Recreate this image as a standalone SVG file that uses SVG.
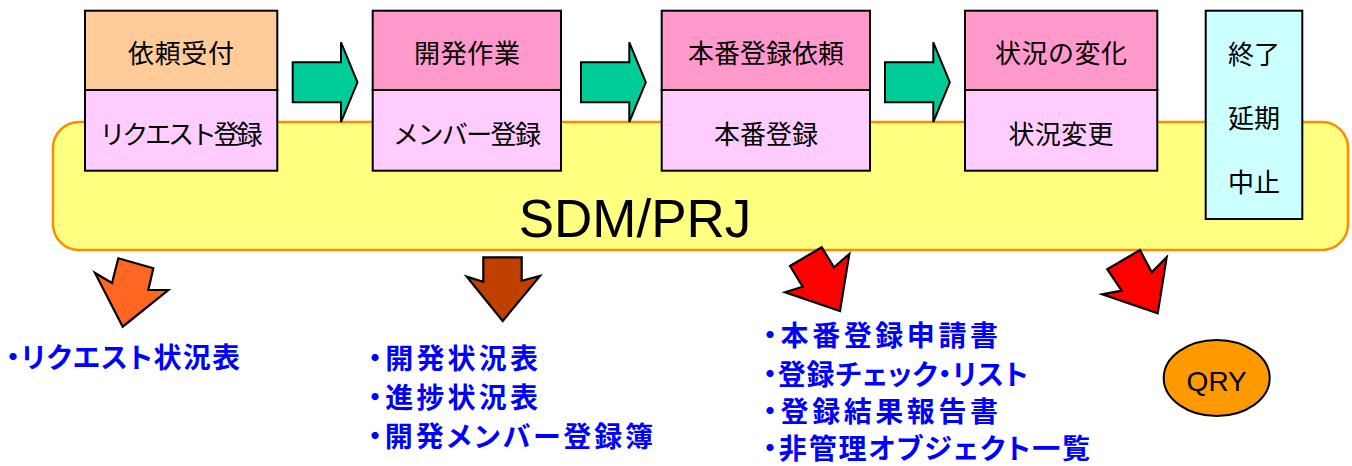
<svg xmlns="http://www.w3.org/2000/svg" width="1352" height="466" viewBox="0 0 1352 466">
<style>
.box{stroke:#000;stroke-width:2}
.top1{fill:#FFCC99}
.top{fill:#FF99CC}
.bot{fill:#FFCCFF}
.end{fill:#CCFFFF}
.t{font-family:"Noto Sans CJK JP","Noto Sans",sans-serif;font-size:26px;fill:#000;text-anchor:middle}
.l{font-family:"Noto Sans CJK JP","Noto Sans",sans-serif;font-size:28px;font-weight:bold;fill:#0000FF;font-feature-settings:"palt"}
.garrow{fill:#00CC99;stroke:#000;stroke-width:2;stroke-linejoin:miter}
.darrow{stroke:#000;stroke-width:2.2;stroke-linejoin:miter}
</style>
<defs>
<polygon id="ga" points="292.7,62.3 341,62.3 341,42.3 357.5,82.3 341,122 341,102.3 292.7,102.3"/>
</defs>
<g id="sdm">
<rect x="53" y="122" width="1295" height="128" rx="26" ry="26" fill="#FFFF80" stroke="#FF8C00" stroke-width="2.5"/>
<text x="635" y="237" font-family="Liberation Sans,Arial,sans-serif" font-size="53" text-anchor="middle" fill="#000">SDM/PRJ</text>
</g>
<g id="connectors">
<use href="#ga" class="garrow"/>
<use href="#ga" class="garrow" transform="translate(288.3,0)"/>
<use href="#ga" class="garrow" transform="translate(592.3,0)"/>
<polygon class="darrow" fill="#FF6622" points="122.7,326.7 95,273 112,283 118.3,258.3 153.3,268.3 148.3,290 168.3,290"/>
<polygon class="darrow" fill="#C04000" points="483.3,257.3 521.7,257.3 521.7,280.7 540,276 502.7,321 466.7,276.7 483.3,281.7"/>
<polygon class="darrow" fill="#FF0000" points="790,266 821.7,247.3 834,267.3 849.3,254 840,311 785,292.3 802.7,286.7"/>
<polygon class="darrow" fill="#FF0000" points="1107.3,269.3 1140,250 1151.7,272.3 1166.7,257.3 1157.7,313.3 1102.3,294.3 1121.7,290.7"/>
</g>
<g id="node-irai">
<rect class="box top1" x="85" y="10.7" width="192.3" height="79.3"/>
<rect class="box bot" x="85" y="90" width="192.3" height="80.7"/>
<text class="t" x="181" y="63" textLength="106">依頼受付</text>
<text class="t" x="181" y="143.5" textLength="163">リクエスト登録</text>
</g>
<g id="node-kaihatsu">
<rect class="box top" x="372.7" y="10.7" width="188.3" height="79.3"/>
<rect class="box bot" x="372.7" y="90" width="188.3" height="80.7"/>
<text class="t" x="467" y="63" textLength="106">開発作業</text>
<text class="t" x="467" y="143.5" textLength="148">メンバー登録</text>
</g>
<g id="node-honban">
<rect class="box top" x="661.7" y="10.7" width="208.3" height="79.3"/>
<rect class="box bot" x="661.7" y="90" width="208.3" height="80.7"/>
<text class="t" x="766" y="63">本番登録依頼</text>
<text class="t" x="766" y="143.5">本番登録</text>
</g>
<g id="node-jokyo">
<rect class="box top" x="965" y="10.7" width="192.3" height="79.3"/>
<rect class="box bot" x="965" y="90" width="192.3" height="80.7"/>
<text class="t" x="1061" y="63" textLength="132">状況の変化</text>
<text class="t" x="1061" y="143.5" textLength="105">状況変更</text>
</g>
<g id="node-end">
<rect class="box end" x="1205.7" y="10.7" width="96.6" height="208.3"/>
<text class="t" x="1254" y="63.5">終了</text>
<text class="t" x="1254" y="127.5">延期</text>
<text class="t" x="1254" y="192">中止</text>
</g>
<g id="list-request">
<text class="l" x="6" y="368" textLength="234">・リクエスト状況表</text>
</g>
<g id="list-kaihatsu">
<text class="l" x="368" y="369" textLength="170">・開発状況表</text>
<text class="l" x="368" y="408" textLength="170">・進捗状況表</text>
<text class="l" x="368" y="447" textLength="285">・開発メンバー登録簿</text>
</g>
<g id="list-honban">
<text class="l" x="763" y="346" textLength="235">・本番登録申請書</text>
<text class="l" x="763" y="385" textLength="265">・登録チェック・リスト</text>
<text class="l" x="763" y="422" textLength="235">・登録結果報告書</text>
<text class="l" x="763" y="459" textLength="327">・非管理オブジェクト一覧</text>
</g>
<g id="node-qry">
<ellipse cx="1216.7" cy="378" rx="53" ry="38" fill="#FF9900" stroke="#000" stroke-width="2"/>
<text x="1216.7" y="391" font-family="Liberation Sans,Arial,sans-serif" font-size="28" text-anchor="middle" fill="#000">QRY</text>
</g>
</svg>
